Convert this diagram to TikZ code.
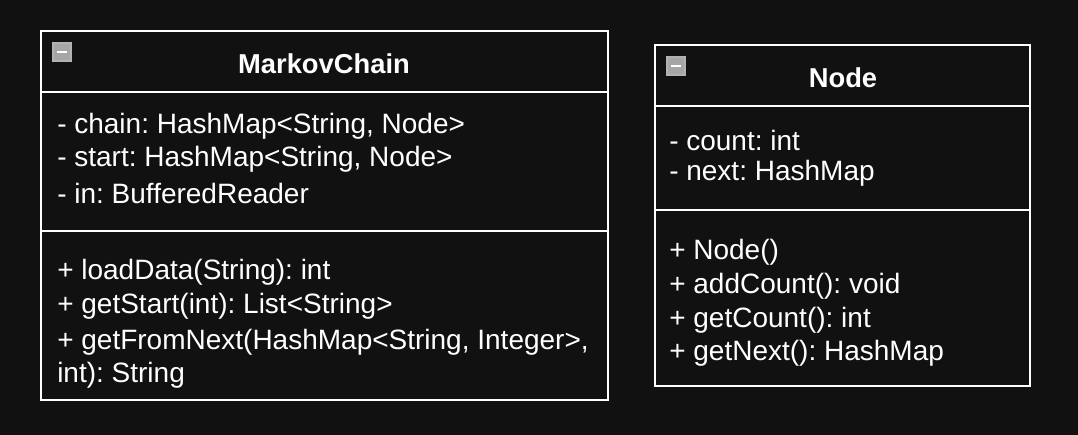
\documentclass[tikz,border=0pt]{standalone}
\usepackage{fontspec}
\setmainfont{Liberation Sans}
\frenchspacing
\begin{document}
\begin{tikzpicture}[x=0.75pt,y=-0.75pt,
  box/.style={draw=white,line width=1.5pt},
  sep/.style={draw=white,line width=1.2pt},
  txt/.style={text=white,anchor=west,inner sep=0pt,font=\fontsize{21}{24}\selectfont},
  ttl/.style={text=white,inner sep=0pt,font=\bfseries\fontsize{20.5}{24}\selectfont},
  icon/.style={draw=gray!60,fill=gray!70,minimum size=13.5pt,inner sep=0pt,line width=0.8pt}]
\fill[fill={rgb,255:red,17;green,17;blue,17}] (0,0) rectangle (1078,435);
\useasboundingbox (0,0) rectangle (1078,435);
% MarkovChain
\draw[box] (41,31) rectangle (608,400);
\draw[sep] (41,92) -- (608,92);
\draw[sep] (41,231) -- (608,231);
\node[icon] (i1) at (62,52) {};
\draw[white,line width=1.2pt] (57,52) -- (67,52);
\node[ttl] (t1) at (324,64) {MarkovChain};
\node[txt] (a1) at (57,126) {- chain: HashMap<String, Node>};
\node[txt] (a2) at (57,159) {- start: HashMap<String, Node>};
\node[txt] (a3) at (57,193) {- in: BufferedReader};
\node[txt] (m1) at (57,272) {+ loadData(String): int};
\node[txt] (m2) at (57,306) {+ getStart(int): List<String>};
\node[txt] (m3) at (57,342) {+ getFromNext(HashMap<String, Integer>,};
\node[txt] (m4) at (57,375) {int): String};
% Node
\draw[box] (655,45) rectangle (1030,386);
\draw[sep] (655,106) -- (1030,106);
\draw[sep] (655,210) -- (1030,210);
\node[icon] (i2) at (676,66) {};
\draw[white,line width=1.2pt] (671,66) -- (681,66);
\node[ttl] (t2) at (843,78) {Node};
\node[txt] (b1) at (669,140) {- count: int};
\node[txt] (b2) at (669,173) {- next: HashMap};
\node[txt] (n1) at (669,252) {+ Node()};
\node[txt] (n2) at (669,286) {+ addCount(): void};
\node[txt] (n3) at (669,320) {+ getCount(): int};
\node[txt] (n4) at (669,353) {+ getNext(): HashMap};
\end{tikzpicture}
\end{document}
